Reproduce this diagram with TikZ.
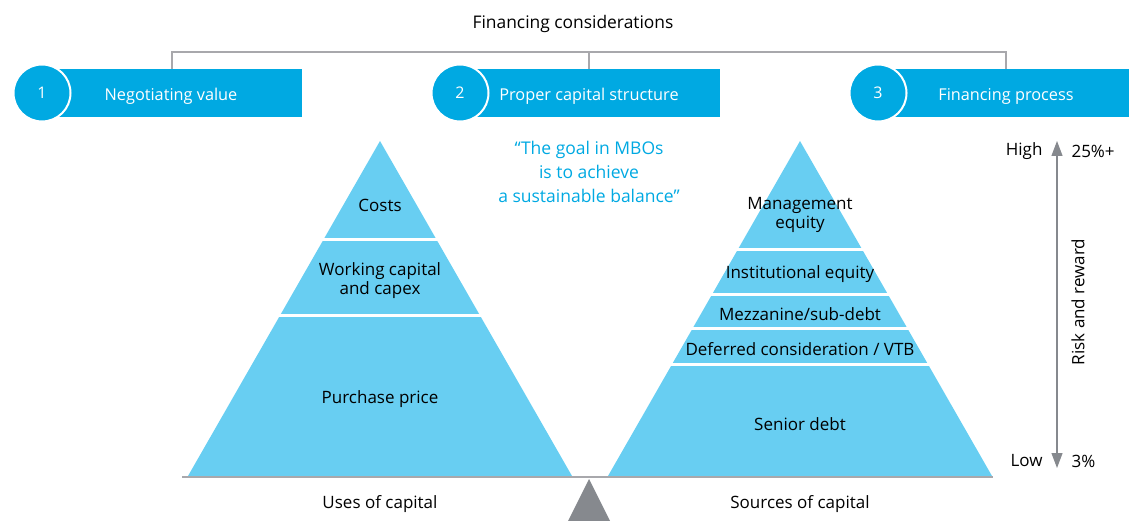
\documentclass[tikz,border=0pt]{standalone}
\usepackage{fontspec}
\setmainfont{Open Sans}
\usetikzlibrary{arrows.meta}
\definecolor{boxblue}{RGB}{0,169,226}
\definecolor{pyrblue}{RGB}{104,206,242}
\definecolor{linegray}{RGB}{168,168,172}
\definecolor{tipgray}{RGB}{134,137,142}

\begin{document}
\begin{tikzpicture}[x=1pt,y=-1pt,
  boxtext/.style={text=white,font=\fontsize{16.3}{19}\selectfont,yshift=-2pt},
  numdisc/.style={circle,fill=boxblue,draw=white,line width=2pt,
                  minimum size=57pt,inner sep=0pt,text=white,
                  font=\fontsize{16}{19}\selectfont},
  lbl/.style={font=\fontsize{17}{19}\selectfont,align=center,yshift=-2pt},
  sep/.style={white,line width=3pt}]
  \useasboundingbox (0,0) rectangle (1129,521);
  % Header and bracket
  \node[lbl,font=\fontsize{17.4}{19}\selectfont] (title) at (573,22) {Financing considerations};
  \coordinate (bl) at (172,52);
  \coordinate (bm) at (589,52);
  \coordinate (br) at (1006,52);
  \draw[linegray,line width=1.2pt] (bl |- 0,69) -- (bl) -- (br) -- (br |- 0,69);
  \draw[linegray,line width=1.2pt] (bm) -- (bm |- 0,69);
  % Boxes
  \fill[boxblue] (58,69) rectangle (302,117);
  \fill[boxblue] (477,69) rectangle (720,117);
  \fill[boxblue] (893,69) rectangle (1129,117);
  \node[boxtext] (v1) at (171,94) {Negotiating value};
  \node[boxtext] (v2) at (589,94) {Proper capital structure};
  \node[boxtext] (v3) at (1006,94) {Financing process};
  \node[numdisc] (n1) at (42,93) {1};
  \node[numdisc] (n2) at (460,93) {2};
  \node[numdisc] (n3) at (878,93) {3};
  % Quote
  \node[lbl,text=boxblue,font=\fontsize{17.5}{24}\selectfont] (quote) at (589,170)
    {“The goal in MBOs\\is to achieve\\a sustainable balance”};
  % Uses of capital
  \fill[pyrblue] (380,141) -- (572,476) -- (188,476) -- cycle;
  \draw[sep] (150,240) -- (610,240);
  \draw[sep] (150,315) -- (610,315);
  \node[lbl] (costs) at (380,203) {Costs};
  \node[lbl] (wcap) at (380,279) {Working capital\\and capex};
  \node[lbl] (price) at (380,397) {Purchase price};
  % Sources of capital
  \fill[pyrblue] (800,141) -- (992,476) -- (608,476) -- cycle;
  \draw[sep] (600,250) -- (1000,250);
  \draw[sep] (600,294) -- (1000,294);
  \draw[sep] (600,328) -- (1000,328);
  \draw[sep] (600,364) -- (1000,364);
  \node[lbl] (mgmt) at (800,213) {Management\\equity};
  \node[lbl] (inst) at (800,272) {Institutional equity};
  \node[lbl] (mezz) at (800,312) {Mezzanine/sub-debt};
  \node[lbl] (vtb) at (800,347) {Deferred consideration / VTB};
  \node[lbl] (senior) at (800,422) {Senior debt};
  % Balance
  \draw[linegray,line width=1.2pt] (182,477) -- (993,477);
  \fill[tipgray] (589,479) -- (610,521) -- (568,521) -- cycle;
  \node[lbl] (uses) at (380,502) {Uses of capital};
  \node[lbl] (srcs) at (800,502) {Sources of capital};
  % Risk and reward
  \coordinate (hi) at (1057,141);
  \coordinate (lo) at (1057,468);
  \draw[tipgray,line width=1.2pt,{Triangle[length=15pt,width=11pt]}-{Triangle[length=15pt,width=11pt]}] (hi) -- (lo);
  \node[lbl,anchor=east] (high) at (1046,149) {High};
  \node[lbl,anchor=west] (top) at (1068,149) {25\%+};
  \node[lbl,anchor=east] (low) at (1046,459) {Low};
  \node[lbl,anchor=west] (bot) at (1068,459) {3\%};
  \node[lbl,rotate=90] (risk) at (1078,300) {Risk and reward};
\end{tikzpicture}
\end{document}
